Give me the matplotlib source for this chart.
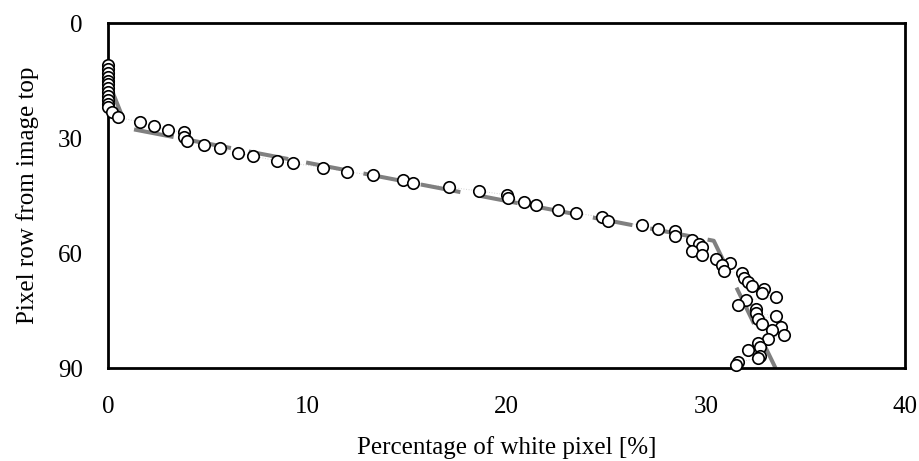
import matplotlib
matplotlib.use('Agg')
import matplotlib.pyplot as plt

# white pixel share per image row
white_pct = [0, 0, 0, 0, 0, 0, 0, 0, 0, 0, 0, 0,
             0.2, 0.5, 1.6, 2.3, 3.0, 3.8, 3.8, 3.95, 4.8, 5.6,
             6.5, 7.3, 8.5, 9.3, 10.8, 12.0, 13.3, 14.8, 15.3, 17.1,
             18.6, 20.0, 20.1, 20.9, 21.5, 22.6, 23.5, 24.8, 25.1, 26.8,
             27.6, 28.45, 28.45, 29.3, 29.65, 29.8, 29.3, 29.8, 30.5, 31.2,
             30.8, 30.9, 31.8, 31.9, 32.1, 32.3, 32.9, 32.8, 33.5, 32.0,
             31.6, 32.5, 32.5, 33.5, 32.6, 32.8, 33.8, 33.3, 33.95, 33.1,
             32.6, 32.7, 32.1, 32.7, 32.6, 31.6, 31.5]
row = [11, 12, 13, 14, 15, 16, 17, 18, 19, 20, 21, 22,
       23.3, 24.6, 25.8, 26.9, 27.9, 28.5, 29.7, 30.8, 31.8, 32.6,
       33.9, 34.7, 36.0, 36.6, 37.7, 38.8, 39.7, 41.0, 41.7, 42.8,
       43.8, 44.8, 45.7, 46.6, 47.6, 48.8, 49.6, 50.6, 51.7, 52.7,
       53.7, 54.3, 55.6, 56.6, 57.7, 58.4, 59.5, 60.5, 61.5, 62.5,
       63.2, 64.6, 65.3, 66.4, 67.5, 68.6, 69.4, 70.5, 71.5, 72.3,
       73.6, 74.7, 75.7, 76.4, 77.3, 78.5, 79.4, 80.1, 81.4, 82.4,
       83.4, 84.4, 85.3, 86.9, 87.5, 88.4, 89.2]

# piecewise trend
trend_x = [0, 0.95, 30.4, 33.5]
trend_y = [15, 27.4, 56.8, 90]

plt.rcParams['font.family'] = ['Liberation Serif', 'DejaVu Serif']

fig = plt.figure(figsize=(9.19, 4.61), dpi=100)
ax = fig.add_axes([0.1175, 0.2017, 0.8673, 0.7483])

ax.plot(white_pct, row, color='#d0d0d0', lw=0.7, ls=':', zorder=1)
ax.plot(trend_x, trend_y, color='#808080', lw=2.9, dashes=(10, 4.5),
        solid_capstyle='butt', dash_capstyle='butt', zorder=2)
ax.scatter(white_pct, row, s=68, facecolor='white', edgecolor='black',
           linewidths=1.2, zorder=3, clip_on=False)

ax.set_xlim(0, 40)
ax.set_ylim(90, 0)
ax.set_xticks([0, 10, 20, 30, 40])
ax.set_yticks([0, 30, 60, 90])
ax.tick_params(length=0, labelsize=18, pad=20)
ax.tick_params(axis='y', pad=18)
for s in ax.spines.values():
    s.set_linewidth(2)
    s.set_color('black')

ax.set_xlabel('Percentage of white pixel [%]', fontsize=18, labelpad=13)
ax.set_ylabel('Pixel row from image top', fontsize=18, labelpad=14)

fig.savefig('out.png', dpi=100)
